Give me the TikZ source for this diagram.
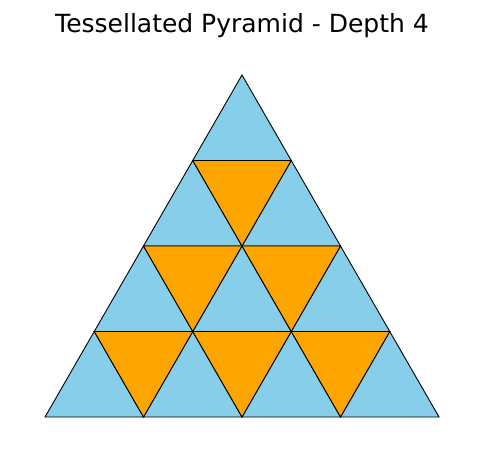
\documentclass[tikz,border=0pt]{standalone}
\usepackage{fontspec}
\setmainfont{DejaVu Sans}
\definecolor{skyb}{HTML}{87CEEB}
\definecolor{orng}{HTML}{FFA500}
\begin{document}
\begin{tikzpicture}[x=1pt,y=-1pt,
  up/.style={fill=skyb,draw=black,line width=0.9pt,line join=miter},
  down/.style={fill=orng,draw=black,line width=0.9pt,line join=miter}]
\useasboundingbox (0,0) rectangle (484,462);
\node[font=\fontsize{25}{30}\selectfont] (title) at (242,26) {Tessellated Pyramid - Depth 4};
\foreach \i in {0,...,3}{
  \pgfmathsetmacro{\yt}{75+85.5*\i}
  \pgfmathsetmacro{\yb}{\yt+85.5}
  \pgfmathsetmacro{\xz}{242-49.25*(\i+1)}
  \foreach \j in {0,...,\i}{
    \pgfmathsetmacro{\xl}{\xz+98.5*\j}
    \draw[up] (\xl,\yb) -- (\xl+98.5,\yb) -- (\xl+49.25,\yt) -- cycle;
  }
  \ifnum\i>0
    \pgfmathtruncatemacro{\n}{\i-1}
    \foreach \j in {0,...,\n}{
      \pgfmathsetmacro{\xl}{\xz+98.5*\j}
      \draw[down] (\xl+49.25,\yt) -- (\xl+147.75,\yt) -- (\xl+98.5,\yb) -- cycle;
    }
  \fi
}
\end{tikzpicture}
\end{document}
